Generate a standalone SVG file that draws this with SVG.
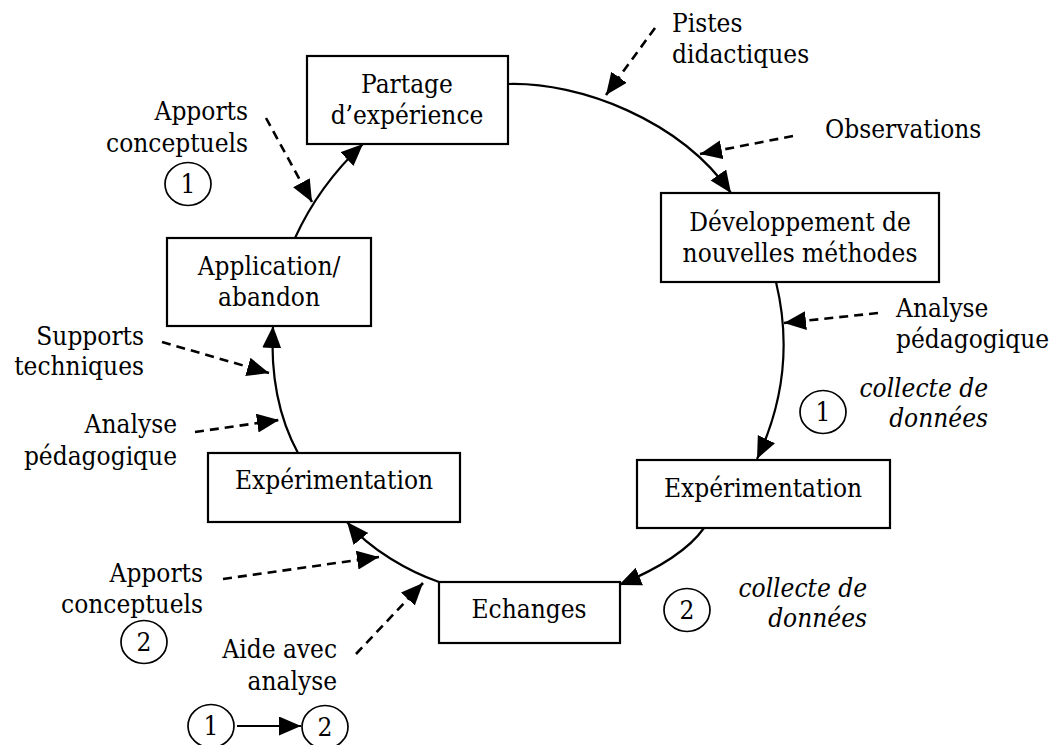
<svg xmlns="http://www.w3.org/2000/svg" width="1053" height="745" viewBox="0 0 1053 745">
<style>
text{font-family:"DejaVu Serif Condensed","DejaVu Serif","Liberation Serif",serif;font-stretch:condensed;font-size:26px;fill:#000}
.c{text-anchor:middle}
.r{text-anchor:end}
.i{font-style:italic}
.box{fill:#fff;stroke:#000;stroke-width:2.2}
.circ{fill:none;stroke:#000;stroke-width:1.7}
.solid{fill:none;stroke:#000;stroke-width:2.2;marker-end:url(#ah)}
.dash{fill:none;stroke:#000;stroke-width:2.6;stroke-dasharray:9 6;marker-end:url(#ah)}
</style>
<defs>
<marker id="ah" markerUnits="userSpaceOnUse" markerWidth="24" markerHeight="20" refX="22" refY="9.5" orient="auto" viewBox="0 0 24 20">
<path d="M0,0 L22,9.5 L0,19 z" fill="#000"/>
</marker>
</defs>
<rect width="1053" height="745" fill="#fff"/>
<g id="connectors">
<path class="solid" d="M508,84 C580,82 680,120 731,193"/>
<path class="solid" d="M776,282 C790,340 785,400 757,459"/>
<path class="solid" d="M704,528 C690,548 660,568 619,585"/>
<path class="solid" d="M439,582 C410,572 370,550 347,522"/>
<path class="solid" d="M298,453 C280,420 270,380 273,326"/>
<path class="solid" d="M295,238 C310,205 330,175 363,144"/>
<path class="dash" d="M655,28 L606,95"/>
<path class="dash" d="M793,136 L700,154"/>
<path class="dash" d="M266,118 L312,202"/>
<path class="dash" d="M162,342 L269,373"/>
<path class="dash" d="M195,432 L279,420"/>
<path class="dash" d="M878,313 L784,323"/>
<path class="dash" d="M223,579 L379,557"/>
<path class="dash" d="M356,654 L423,583"/>
<path class="solid" d="M237,726 L301,726"/>
</g>
<g id="partage"><rect class="box" x="307" y="56" width="201" height="88"/><text class="c" x="407" y="93">Partage</text><text class="c" x="407" y="124">d’expérience</text></g>
<g id="developpement"><rect class="box" x="661" y="193" width="278" height="89"/><text class="c" x="800" y="231">Développement de</text><text class="c" x="800" y="262">nouvelles méthodes</text></g>
<g id="experimentation-right"><rect class="box" x="637" y="460" width="253" height="68"/><text class="c" x="763" y="497">Expérimentation</text></g>
<g id="echanges"><rect class="box" x="439" y="582" width="181" height="61"/><text class="c" x="529" y="618">Echanges</text></g>
<g id="experimentation-left"><rect class="box" x="208" y="453" width="252" height="69"/><text class="c" x="334" y="489">Expérimentation</text></g>
<g id="application"><rect class="box" x="167" y="238" width="204" height="88"/><text class="c" x="269" y="275">Application/</text><text class="c" x="269" y="306">abandon</text></g>
<g id="pistes"><text x="672" y="32">Pistes</text><text x="672" y="63">didactiques</text></g>
<g id="observations"><text x="825" y="138">Observations</text></g>
<g id="apports1"><text class="r" x="248" y="120">Apports</text><text class="r" x="248" y="152">conceptuels</text><ellipse class="circ" cx="188" cy="184" rx="23" ry="21.5"/><text class="c" x="188" y="193">1</text></g>
<g id="supports"><text class="r" x="144" y="345">Supports</text><text class="r" x="144" y="375">techniques</text></g>
<g id="analyse-left"><text class="r" x="177" y="433">Analyse</text><text class="r" x="177" y="465">pédagogique</text></g>
<g id="analyse-right"><text x="896" y="317">Analyse</text><text x="896" y="348">pédagogique</text></g>
<g id="collecte1"><ellipse class="circ" cx="823" cy="412" rx="23" ry="21.5"/><text class="c" x="823" y="421">1</text><text class="r i" x="988" y="397">collecte de</text><text class="r i" x="988" y="427">données</text></g>
<g id="collecte2"><ellipse class="circ" cx="687" cy="610" rx="23" ry="21.5"/><text class="c" x="687" y="619">2</text><text class="r i" x="867" y="597">collecte de</text><text class="r i" x="867" y="627">données</text></g>
<g id="apports2"><text class="r" x="203" y="582">Apports</text><text class="r" x="203" y="613">conceptuels</text><ellipse class="circ" cx="144" cy="642" rx="23" ry="21.5"/><text class="c" x="144" y="651">2</text></g>
<g id="aide"><text class="r" x="337" y="658">Aide avec</text><text class="r" x="337" y="690">analyse</text></g>
<g id="legend"><ellipse class="circ" cx="211" cy="726" rx="23" ry="21.5"/><text class="c" x="211" y="735">1</text><ellipse class="circ" cx="325" cy="727" rx="23" ry="21.5"/><text class="c" x="325" y="736">2</text></g>
</svg>
